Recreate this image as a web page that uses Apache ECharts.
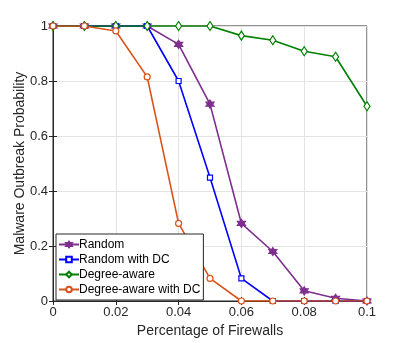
<!DOCTYPE html>
<html>
<head>
<meta charset="utf-8">
<script src="https://cdn.jsdelivr.net/npm/echarts@6/dist/echarts.min.js"></script>
<style>
  html, body { margin: 0; padding: 0; background: #fff; }
  #main { width: 406px; height: 343px; }
</style>
</head>
<body>
<div id="main"></div>
<script>
// 数据
var xValues = [0, 0.01, 0.02, 0.03, 0.04, 0.05, 0.06, 0.07, 0.08, 0.09, 0.1];
var randomVals = [1, 1, 1, 1, 0.933, 0.716, 0.282, 0.18, 0.037, 0.01, 0];
var randomDCVals = [1, 1, 1, 1, 0.80, 0.449, 0.082, 0, 0, 0, 0];
var degreeVals = [1, 1, 1, 1, 1, 1, 0.965, 0.948, 0.908, 0.888, 0.708];
var degreeDCVals = [1, 1, 0.982, 0.815, 0.282, 0.082, 0, 0, 0, 0, 0];
var seriesNames = ['Random', 'Random with DC', 'Degree-aware', 'Degree-aware with DC'];

function pairs(vals){
  return vals.map(function(v, i){ return [xValues[i], v]; });
}

var hexagram = 'path://M0,-10 L2.9,-5 L8.66,-5 L5.77,0 L8.66,5 L2.9,5 L0,10 L-2.9,5 L-8.66,5 L-5.77,0 L-8.66,-5 L-2.9,-5 Z';
var font = 'Liberation Sans, Arial, sans-serif';
var axisColor = '#262626';

const myChart = echarts.init(document.getElementById('main'));

function mkSeries(name, vals, color, symbol, size, filled){
  return {
    name: name,
    type: 'line',
    data: pairs(vals),
    symbol: symbol,
    symbolSize: size,
    showAllSymbol: true,
    lineStyle: { color: color, width: 1.6 },
    itemStyle: { color: filled ? color : '#fff', borderColor: color, borderWidth: 1.2 },
    emphasis: { disabled: true },
    animation: false
  };
}

var option = {
  backgroundColor: '#fff',
  animation: false,
  grid: { left: 53, right: 39, top: 26, bottom: 41, show: true, borderColor: axisColor, borderWidth: 1 },
  legend: {
    orient: 'vertical',
    left: 56,
    top: 234,
    data: seriesNames,
    backgroundColor: '#fff',
    borderColor: axisColor,
    borderWidth: 1,
    borderRadius: 0,
    padding: [3, 3, 3, 2],
    itemGap: 0,
    itemWidth: 20,
    itemHeight: 7,
    textStyle: { fontFamily: font, fontSize: 12, color: '#000', lineHeight: 15, padding: [0, 0, 0, -5] }
  },
  xAxis: [{
    type: 'value',
    min: 0, max: 0.1, interval: 0.02,
    name: 'Percentage of Firewalls',
    nameLocation: 'middle',
    nameGap: 23,
    nameMoveOverlap: false,
    nameTextStyle: { fontFamily: font, fontSize: 14, color: '#262626' },
    axisLine: { show: true, onZero: false, lineStyle: { color: axisColor } },
    axisTick: { show: true, inside: true, length: 4, lineStyle: { color: axisColor } },
    axisLabel: { fontFamily: font, fontSize: 13, color: '#262626', margin: 5,
      formatter: function(v){ return v === 0 ? '0' : (v === 0.1 ? '0.1' : v.toFixed(2)); } },
    splitLine: { show: true, lineStyle: { color: '#e3e3e3', width: 1 } }
  }, {
    type: 'value', position: 'top',
    min: 0, max: 0.1, interval: 0.02,
    axisLine: { show: false },
    axisTick: { show: true, inside: true, length: 4, lineStyle: { color: axisColor } },
    axisLabel: { show: false },
    splitLine: { show: false }
  }],
  yAxis: [{
    type: 'value',
    min: 0, max: 1, interval: 0.2,
    name: 'Malware Outbreak Probability',
    nameLocation: 'middle',
    nameGap: 26,
    nameMoveOverlap: false,
    nameTextStyle: { fontFamily: font, fontSize: 14, color: '#262626' },
    axisLine: { show: true, lineStyle: { color: axisColor } },
    axisTick: { show: true, inside: true, length: 4, lineStyle: { color: axisColor } },
    axisLabel: { fontFamily: font, fontSize: 13, color: '#262626', margin: 5,
      formatter: function(v){ return (v === 0 || v === 1) ? String(v) : v.toFixed(1); } },
    splitLine: { show: true, lineStyle: { color: '#e3e3e3', width: 1 } }
  }, {
    type: 'value', position: 'right',
    min: 0, max: 1, interval: 0.2,
    axisLine: { show: false },
    axisTick: { show: true, inside: true, length: 4, lineStyle: { color: axisColor } },
    axisLabel: { show: false },
    splitLine: { show: false }
  }],
  series: [
    mkSeries(seriesNames[0], randomVals, '#7E2F8E', hexagram, 8, true),
    mkSeries(seriesNames[1], randomDCVals, '#0000FF', 'rect', 5, false),
    mkSeries(seriesNames[2], degreeVals, '#008000', 'diamond', [6, 9], false),
    mkSeries(seriesNames[3], degreeDCVals, '#D95319', 'circle', 6, false)
  ]
};

// 使用刚指定的配置项和数据显示图表。
myChart.setOption(option);
</script>
</body>
</html>
